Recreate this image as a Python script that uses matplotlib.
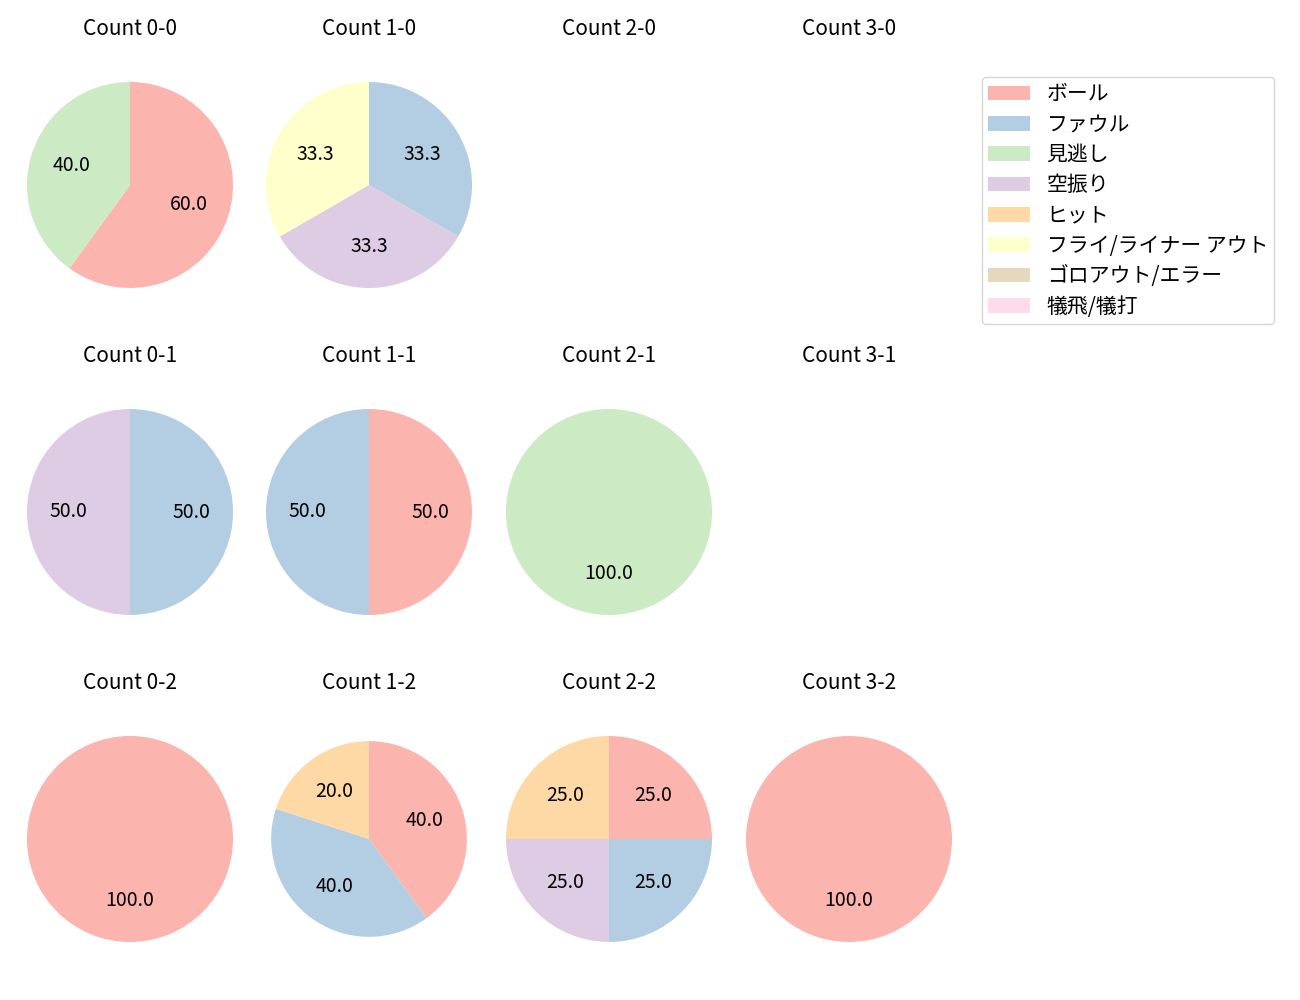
import matplotlib
matplotlib.use("Agg")
import matplotlib.pyplot as plt
from matplotlib.patches import Patch

plt.rcParams['font.family'] = ['Noto Sans CJK JP', 'DejaVu Sans']

# 球種結果カテゴリ
categories = ['ボール', 'ファウル', '見逃し', '空振り', 'ヒット',
              'フライ/ライナー アウト', 'ゴロアウト/エラー', '犠飛/犠打']

# カウントごとの割合 (カテゴリ順)
count_titles = [['Count 0-0', 'Count 1-0', 'Count 2-0', 'Count 3-0'],
                ['Count 0-1', 'Count 1-1', 'Count 2-1', 'Count 3-1'],
                ['Count 0-2', 'Count 1-2', 'Count 2-2', 'Count 3-2']]
count_values = [
    [[60, 0, 40, 0, 0, 0, 0, 0], [0, 1, 0, 1, 0, 1, 0, 0], None, None],
    [[0, 1, 0, 1, 0, 0, 0, 0], [1, 1, 0, 0, 0, 0, 0, 0], [0, 0, 1, 0, 0, 0, 0, 0], None],
    [[1, 0, 0, 0, 0, 0, 0, 0], [2, 2, 0, 0, 1, 0, 0, 0], [1, 1, 0, 1, 1, 0, 0, 0], [1, 0, 0, 0, 0, 0, 0, 0]],
]

colors = plt.cm.Pastel1.colors[:8]

fig = plt.figure(figsize=(13, 10), dpi=100)
W, H = 1300, 1000
col_x = [130, 369, 609, 849]
row_y = [185, 512, 839]
r = 103
half = 1.25 * r

for i in range(3):
    for j in range(4):
        cx, cy = col_x[j], row_y[i]
        ax = fig.add_axes([(cx - half) / W, 1 - (cy + half) / H, 2 * half / W, 2 * half / H])
        vals = count_values[i][j]
        if vals is not None:
            idx = [k for k, v in enumerate(vals) if v > 0]
            # 1-2 のパイは元図で少し小さい
            rad = 0.95 if (i, j) == (2, 1) else 1.0
            ax.pie([vals[k] for k in idx], colors=[colors[k] for k in idx],
                   autopct='%.1f', startangle=90, counterclock=False,
                   radius=rad, textprops={'fontsize': 14})
        ax.set_xlim(-1.25, 1.25)
        ax.set_ylim(-1.25, 1.25)
        ax.set_aspect('equal')
        ax.axis('off')
        ax.set_title(count_titles[i][j], fontsize=15, pad=15)

handles = [Patch(facecolor=c) for c in colors]
fig.legend(handles, categories, loc='upper left', bbox_to_anchor=(982 / W, 1 - 77 / H),
           fontsize=15, handlelength=2.0, handletextpad=0.8, borderaxespad=0,
           labelspacing=0.4, borderpad=0.3)

plt.savefig('out.png', dpi=100)
